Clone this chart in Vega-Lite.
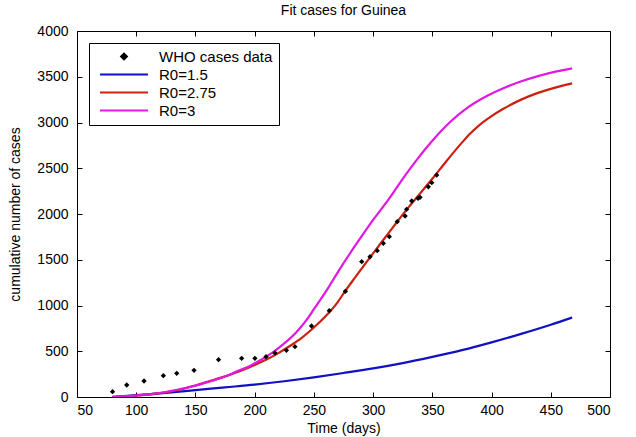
{
  "$schema": "https://vega.github.io/schema/vega-lite/v6.json",
  "width": 533,
  "height": 366,
  "autosize": {"type": "none"},
  "padding": {"left": 77, "top": 31, "right": 26, "bottom": 40},
  "background": "white",
  "config": {
    "font": "Liberation Sans",
    "view": {"stroke": "black", "strokeWidth": 1},
    "axis": {"labelFont": "Liberation Sans", "labelFontSize": 14, "labelColor": "black", "titleFont": "Liberation Sans", "titleFontSize": 14, "titleFontWeight": "normal", "titleColor": "black", "grid": false, "domainColor": "black", "tickColor": "black", "tickSize": -5, "format": "d"}
  },
  "title": {"text": "Fit cases for Guinea", "fontSize": 14, "fontWeight": "normal", "font": "Liberation Sans", "color": "black", "offset": 6},
  "datasets": {
    "curves": [
      {"day": 80, "cases": 0, "series": "R0=1.5"},
      {"day": 100, "cases": 20, "series": "R0=1.5"},
      {"day": 125, "cases": 45, "series": "R0=1.5"},
      {"day": 150, "cases": 75, "series": "R0=1.5"},
      {"day": 175, "cases": 105, "series": "R0=1.5"},
      {"day": 200, "cases": 135, "series": "R0=1.5"},
      {"day": 225, "cases": 172, "series": "R0=1.5"},
      {"day": 250, "cases": 215, "series": "R0=1.5"},
      {"day": 275, "cases": 262, "series": "R0=1.5"},
      {"day": 300, "cases": 312, "series": "R0=1.5"},
      {"day": 325, "cases": 370, "series": "R0=1.5"},
      {"day": 350, "cases": 438, "series": "R0=1.5"},
      {"day": 375, "cases": 512, "series": "R0=1.5"},
      {"day": 400, "cases": 597, "series": "R0=1.5"},
      {"day": 425, "cases": 690, "series": "R0=1.5"},
      {"day": 450, "cases": 790, "series": "R0=1.5"},
      {"day": 468, "cases": 868, "series": "R0=1.5"},
      {"day": 80, "cases": 3, "series": "R0=2.75"},
      {"day": 90, "cases": 8, "series": "R0=2.75"},
      {"day": 100, "cases": 15, "series": "R0=2.75"},
      {"day": 110, "cases": 26, "series": "R0=2.75"},
      {"day": 125, "cases": 50, "series": "R0=2.75"},
      {"day": 140, "cases": 90, "series": "R0=2.75"},
      {"day": 150, "cases": 125, "series": "R0=2.75"},
      {"day": 160, "cases": 165, "series": "R0=2.75"},
      {"day": 175, "cases": 225, "series": "R0=2.75"},
      {"day": 190, "cases": 295, "series": "R0=2.75"},
      {"day": 200, "cases": 350, "series": "R0=2.75"},
      {"day": 210, "cases": 410, "series": "R0=2.75"},
      {"day": 220, "cases": 480, "series": "R0=2.75"},
      {"day": 230, "cases": 560, "series": "R0=2.75"},
      {"day": 240, "cases": 650, "series": "R0=2.75"},
      {"day": 250, "cases": 760, "series": "R0=2.75"},
      {"day": 260, "cases": 885, "series": "R0=2.75"},
      {"day": 270, "cases": 1035, "series": "R0=2.75"},
      {"day": 276, "cases": 1150, "series": "R0=2.75"},
      {"day": 285, "cases": 1310, "series": "R0=2.75"},
      {"day": 300, "cases": 1570, "series": "R0=2.75"},
      {"day": 310, "cases": 1740, "series": "R0=2.75"},
      {"day": 320, "cases": 1910, "series": "R0=2.75"},
      {"day": 330, "cases": 2075, "series": "R0=2.75"},
      {"day": 340, "cases": 2230, "series": "R0=2.75"},
      {"day": 350, "cases": 2385, "series": "R0=2.75"},
      {"day": 362, "cases": 2580, "series": "R0=2.75"},
      {"day": 375, "cases": 2780, "series": "R0=2.75"},
      {"day": 382, "cases": 2880, "series": "R0=2.75"},
      {"day": 390, "cases": 2975, "series": "R0=2.75"},
      {"day": 400, "cases": 3070, "series": "R0=2.75"},
      {"day": 410, "cases": 3150, "series": "R0=2.75"},
      {"day": 425, "cases": 3250, "series": "R0=2.75"},
      {"day": 438, "cases": 3318, "series": "R0=2.75"},
      {"day": 450, "cases": 3368, "series": "R0=2.75"},
      {"day": 460, "cases": 3403, "series": "R0=2.75"},
      {"day": 468, "cases": 3428, "series": "R0=2.75"},
      {"day": 80, "cases": 3, "series": "R0=3"},
      {"day": 90, "cases": 8, "series": "R0=3"},
      {"day": 100, "cases": 16, "series": "R0=3"},
      {"day": 110, "cases": 28, "series": "R0=3"},
      {"day": 125, "cases": 55, "series": "R0=3"},
      {"day": 140, "cases": 95, "series": "R0=3"},
      {"day": 150, "cases": 125, "series": "R0=3"},
      {"day": 160, "cases": 162, "series": "R0=3"},
      {"day": 175, "cases": 225, "series": "R0=3"},
      {"day": 185, "cases": 280, "series": "R0=3"},
      {"day": 196, "cases": 340, "series": "R0=3"},
      {"day": 205, "cases": 405, "series": "R0=3"},
      {"day": 215, "cases": 485, "series": "R0=3"},
      {"day": 224, "cases": 575, "series": "R0=3"},
      {"day": 235, "cases": 705, "series": "R0=3"},
      {"day": 244, "cases": 845, "series": "R0=3"},
      {"day": 250, "cases": 960, "series": "R0=3"},
      {"day": 261, "cases": 1170, "series": "R0=3"},
      {"day": 270, "cases": 1360, "series": "R0=3"},
      {"day": 280, "cases": 1560, "series": "R0=3"},
      {"day": 290, "cases": 1750, "series": "R0=3"},
      {"day": 300, "cases": 1935, "series": "R0=3"},
      {"day": 314, "cases": 2175, "series": "R0=3"},
      {"day": 325, "cases": 2385, "series": "R0=3"},
      {"day": 337, "cases": 2595, "series": "R0=3"},
      {"day": 350, "cases": 2800, "series": "R0=3"},
      {"day": 365, "cases": 3005, "series": "R0=3"},
      {"day": 380, "cases": 3165, "series": "R0=3"},
      {"day": 396, "cases": 3290, "series": "R0=3"},
      {"day": 410, "cases": 3375, "series": "R0=3"},
      {"day": 424, "cases": 3445, "series": "R0=3"},
      {"day": 440, "cases": 3510, "series": "R0=3"},
      {"day": 455, "cases": 3558, "series": "R0=3"},
      {"day": 468, "cases": 3592, "series": "R0=3"}
    ],
    "who": [
      {"day": 80, "cases": 58, "series": "WHO cases data"},
      {"day": 92, "cases": 131, "series": "WHO cases data"},
      {"day": 106.6, "cases": 175, "series": "WHO cases data"},
      {"day": 122.9, "cases": 233, "series": "WHO cases data"},
      {"day": 134.2, "cases": 259, "series": "WHO cases data"},
      {"day": 148.8, "cases": 292, "series": "WHO cases data"},
      {"day": 169.5, "cases": 408, "series": "WHO cases data"},
      {"day": 189, "cases": 423, "series": "WHO cases data"},
      {"day": 200.2, "cases": 423, "series": "WHO cases data"},
      {"day": 209.6, "cases": 441, "series": "WHO cases data"},
      {"day": 217.1, "cases": 481, "series": "WHO cases data"},
      {"day": 226.8, "cases": 510, "series": "WHO cases data"},
      {"day": 234, "cases": 550, "series": "WHO cases data"},
      {"day": 248, "cases": 776, "series": "WHO cases data"},
      {"day": 263, "cases": 943, "series": "WHO cases data"},
      {"day": 276.6, "cases": 1155, "series": "WHO cases data"},
      {"day": 290.4, "cases": 1479, "series": "WHO cases data"},
      {"day": 297.4, "cases": 1533, "series": "WHO cases data"},
      {"day": 303.5, "cases": 1599, "series": "WHO cases data"},
      {"day": 308.6, "cases": 1680, "series": "WHO cases data"},
      {"day": 313.7, "cases": 1752, "series": "WHO cases data"},
      {"day": 320.4, "cases": 1916, "series": "WHO cases data"},
      {"day": 327, "cases": 1978, "series": "WHO cases data"},
      {"day": 328.3, "cases": 2051, "series": "WHO cases data"},
      {"day": 332.6, "cases": 2142, "series": "WHO cases data"},
      {"day": 338, "cases": 2171, "series": "WHO cases data"},
      {"day": 339.6, "cases": 2182, "series": "WHO cases data"},
      {"day": 346.6, "cases": 2298, "series": "WHO cases data"},
      {"day": 349.5, "cases": 2342, "series": "WHO cases data"},
      {"day": 353.7, "cases": 2426, "series": "WHO cases data"}
    ]
  },
  "resolve": {"axis": {"x": "independent", "y": "independent"}},
  "layer": [
    {
      "data": {"name": "curves"},
      "mark": {"type": "line", "strokeWidth": 2.2, "clip": true, "interpolate": "monotone"},
      "encoding": {
        "x": {"field": "day", "type": "quantitative", "scale": {"domain": [50, 500], "nice": false, "zero": false}, "axis": {"title": "Time (days)", "values": [50, 100, 150, 200, 250, 300, 350, 400, 450, 500], "labelPadding": 11, "titlePadding": 4, "domain": false}},
        "y": {"field": "cases", "type": "quantitative", "scale": {"domain": [0, 4000], "nice": false}, "axis": {"title": "cumulative number of cases", "values": [0, 500, 1000, 1500, 2000, 2500, 3000, 3500, 4000], "labelPadding": 14, "titlePadding": 14, "domain": false}},
        "color": {"field": "series", "type": "nominal", "scale": {"domain": ["WHO cases data", "R0=1.5", "R0=2.75", "R0=3"], "range": ["black", "#1010c4", "#cc2010", "#e018e0"]},
          "legend": {"title": null, "orient": "top-left", "offset": 12, "strokeColor": "black", "fillColor": "white", "padding": 6, "labelFontSize": 15, "labelFont": "Liberation Sans", "labelColor": "black", "symbolType": "stroke", "symbolStrokeWidth": 2.2, "symbolSize": 100, "rowPadding": 2, "labelOffset": 49,
            "encode": {"symbols": {"update": {
              "shape": {"signal": "datum.value === 'WHO cases data' ? 'diamond' : 'M-4.8,0H4.8'"},
              "size": {"signal": "datum.value === 'WHO cases data' ? 30 : 100"},
              "fill": {"signal": "datum.value === 'WHO cases data' ? 'black' : 'transparent'"},
              "xc": {"value": 29}
            }}}
          }
        },
        "detail": {"field": "series"}
      }
    },
    {
      "data": {"name": "who"},
      "mark": {"type": "point", "shape": "diamond", "filled": true, "size": 28, "opacity": 1},
      "encoding": {
        "x": {"field": "day", "type": "quantitative", "axis": {"orient": "top", "labels": false, "title": null, "domain": false, "values": [50, 100, 150, 200, 250, 300, 350, 400, 450, 500]}},
        "y": {"field": "cases", "type": "quantitative", "axis": {"orient": "right", "labels": false, "title": null, "domain": false, "values": [0, 500, 1000, 1500, 2000, 2500, 3000, 3500, 4000]}},
        "color": {"field": "series", "type": "nominal"}
      }
    }
  ]
}
